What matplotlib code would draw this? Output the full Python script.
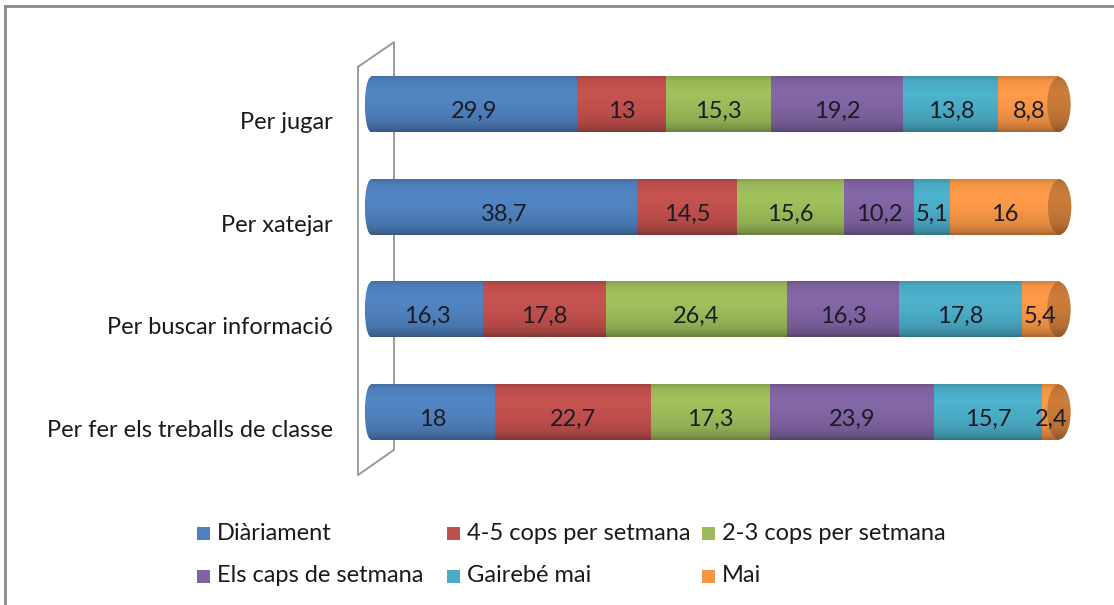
import numpy as np
import matplotlib
matplotlib.use("Agg")
import matplotlib.pyplot as plt
from matplotlib.patches import Ellipse, Rectangle
from matplotlib.lines import Line2D
from matplotlib.colors import to_rgb
from matplotlib.transforms import ScaledTranslation

# ---------------- data ----------------
categories = ["Per fer els treballs de classe", "Per buscar informació",
              "Per xatejar", "Per jugar"]
series_names = ["Diàriament", "4-5 cops per setmana", "2-3 cops per setmana",
                "Els caps de setmana", "Gairebé mai", "Mai"]
diariament = [18, 16.3, 38.7, 29.9]
cops_4_5 = [22.7, 17.8, 14.5, 13]
cops_2_3 = [17.3, 26.4, 15.6, 15.3]
caps_setmana = [23.9, 16.3, 10.2, 19.2]
gairebe_mai = [15.7, 17.8, 5.1, 13.8]
mai = [2.4, 5.4, 16, 8.8]
series_values = [diariament, cops_4_5, cops_2_3, caps_setmana, gairebe_mai, mai]
colors = ["#4F81BD", "#C0504D", "#9BBB59", "#8064A2", "#4BACC6", "#F79646"]

# ---------------- layout ----------------
FONT = "Lato"
FS = 17
W, H = 1114, 605
fig = plt.figure(figsize=(W / 100, H / 100), dpi=100)
fig.patch.set_facecolor("white")

ax_l, ax_r, ax_t, ax_b = 350.4, 1079.6, 30, 480
ax = fig.add_axes([ax_l / W, 1 - ax_b / H, (ax_r - ax_l) / W, (ax_b - ax_t) / H])
XLIM = (-3, 103)
YLIM = (-0.663, 3.727)
bar_h = 0.537
cap_left = 0.9   # half width of left rounded end (data units)
cap_right = 1.7  # half width of right end ellipse (data units)

# shading profile from top (0) to bottom (1) of a cylinder
prof_t = np.array([0.0, 0.08, 0.3, 0.55, 0.8, 0.93, 1.0])
prof_f = np.array([0.86, 0.98, 1.04, 1.0, 0.92, 0.8, 0.68])
tt = np.linspace(0, 1, 120)
shade = np.interp(tt, prof_t, prof_f)


def grad_img(color, k=1.0):
    c = np.array(to_rgb(color))
    img = np.clip(c[None, :] * (shade[:, None] * k), 0, 1)
    return img[:, None, :]


for yi in range(len(categories)):
    left = 0.0
    vals = [s[yi] for s in series_values]
    y0, y1 = yi - bar_h / 2, yi + bar_h / 2
    # left rounded end
    ell = Ellipse((0, yi), 2 * cap_left, bar_h, transform=ax.transData,
                  facecolor="none", edgecolor="none")
    ax.add_patch(ell)
    im = ax.imshow(grad_img(colors[0]), extent=[-cap_left, cap_left, y0, y1],
                   aspect="auto", origin="upper", interpolation="bilinear", zorder=2)
    im.set_clip_path(ell)
    for si, v in enumerate(vals):
        ax.imshow(grad_img(colors[si]), extent=[left, left + v, y0, y1],
                  aspect="auto", origin="upper", interpolation="bilinear", zorder=3)
        lab = f"{v:g}".replace(".", ",")
        ax.text(left + v / 2, yi - 0.07, lab, ha="center", va="center",
                fontsize=FS, color="#1c1c24", family=FONT, zorder=6)
        left += v
    # right end cap
    ell2 = Ellipse((left, yi), 2 * cap_right, bar_h, transform=ax.transData,
                   facecolor="none", edgecolor="none")
    ax.add_patch(ell2)
    im2 = ax.imshow(grad_img(colors[-1], 0.8),
                    extent=[left - cap_right, left + cap_right, y0, y1],
                    aspect="auto", origin="upper", interpolation="bilinear", zorder=4)
    im2.set_clip_path(ell2)

ax.set_xlim(*XLIM)
ax.set_ylim(*YLIM)
ax.set_xticks([])
ax.set_yticks(range(len(categories)))
ax.set_yticklabels(categories, fontsize=FS, family=FONT, color="#1a1a1a")
ax.tick_params(axis="y", length=0, pad=12.5)
off = ScaledTranslation(0, -16 / 100, fig.dpi_scale_trans)
for lbl in ax.get_yticklabels():
    lbl.set_transform(lbl.get_transform() + off)
for sp in ax.spines.values():
    sp.set_visible(False)
ax.patch.set_alpha(0)

# 3D wall outline (axes fraction)
wall_x = [0.0104, 0.0598, 0.0598, 0.0104, 0.0104]
wall_y = [0.918, 0.973, 0.067, 0.011, 0.918]
ax.add_line(Line2D(wall_x, wall_y, transform=ax.transAxes, color="#9a9a9a",
                   lw=1.4, clip_on=False, zorder=1))

# figure border (top and left)
fig.add_artist(Line2D([5 / W, 5 / W], [0, 1 - 6 / H], transform=fig.transFigure,
                      color="#8a8a8a", lw=2))
fig.add_artist(Line2D([5 / W, 1], [1 - 6 / H, 1 - 6 / H], transform=fig.transFigure,
                      color="#8a8a8a", lw=2))

# legend (manual, row-major like the original)
leg_x = [197, 447, 702]
leg_y = [533, 576]
sq = 13
for i, name in enumerate(series_names):
    r, c = divmod(i, 3)
    x, y = leg_x[c], leg_y[r]
    fig.add_artist(Rectangle((x / W, 1 - (y + sq / 2) / H), sq / W, sq / H,
                             transform=fig.transFigure, facecolor=colors[i],
                             edgecolor="none"))
    fig.text((x + 20) / W, 1 - y / H, name, ha="left", va="center",
             fontsize=FS, family=FONT, color="#1a1a1a")

fig.savefig("out.png", dpi=100, facecolor="white")
